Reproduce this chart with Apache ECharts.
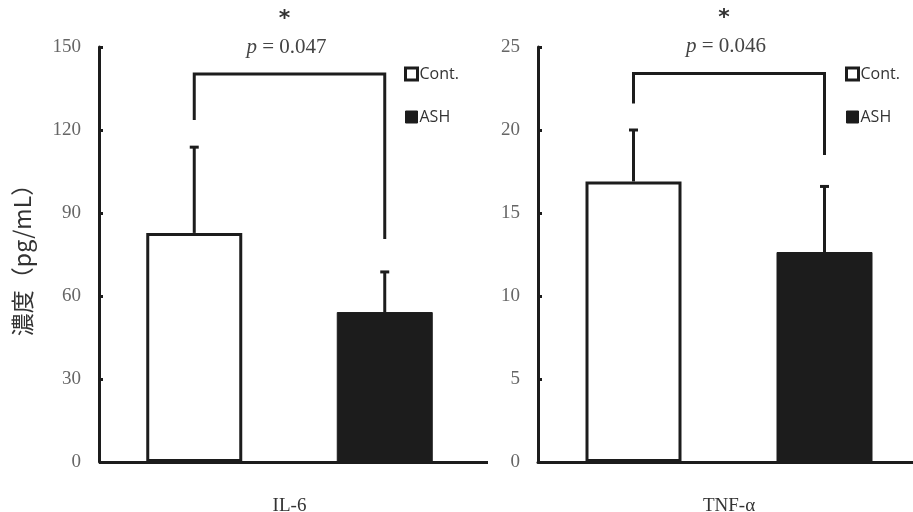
<!DOCTYPE html>
<html><head><meta charset="utf-8">
<script src="https://cdn.jsdelivr.net/npm/echarts@6/dist/echarts.min.js"></script>
<style>html,body{margin:0;padding:0;background:#fff}#c{width:913px;height:512px}</style>
</head><body><div id="c"></div>
<script>
const groups = ['Cont.', 'ASH'];
const panels = ['IL-6', 'TNF-α'];
const il6Mean = [82.8, 54.2];
const il6Upper = [113.8, 68.7];
const tnfMean = [16.9, 12.65];
const tnfUpper = [20.0, 16.6];
// bracket: [left leg bottom, right leg bottom, top]
const il6Bracket = [123.6, 80.6, 140.2];
const tnfBracket = [21.6, 18.5, 23.4];
const pValues = ['0.047', '0.046'];
const yMax = [150, 25];
const yInterval = [30, 5];
const yName = '濃度（pg/mL）';

const INK = '#1c1c1c';
const serif = 'Liberation Serif';

function errItem(params, api) {
  const x = api.value(0);
  const m = api.coord([x, api.value(1)]);
  const u = api.coord([x, api.value(2)]);
  return {type: 'group', children: [
    {type: 'line', shape: {x1: m[0], y1: m[1], x2: u[0], y2: u[1]}, style: {stroke: INK, lineWidth: 3}},
    {type: 'line', shape: {x1: u[0] - 4.5, y1: u[1], x2: u[0] + 4.5, y2: u[1]}, style: {stroke: INK, lineWidth: 3}}
  ]};
}
function bracketItem(pv) {
  return function (params, api) {
    const a = api.coord([0, api.value(0)]);
    const b = api.coord([1, api.value(1)]);
    const t0 = api.coord([0, api.value(2)]);
    const t1 = api.coord([1, api.value(2)]);
    const mid = (t0[0] + t1[0]) / 2;
    return {type: 'group', children: [
      {type: 'polyline', shape: {points: [[a[0], a[1]], [t0[0], t0[1]], [t1[0], t1[1]], [b[0], b[1]]]},
        style: {stroke: INK, lineWidth: 3, fill: null}},
      {type: 'text', x: mid - 3, y: t0[1] - 27, style: {
        text: '{i|p} = ' + pv, rich: {i: {fontStyle: 'italic', fontFamily: serif, fontSize: 21, fill: '#444'}},
        fontFamily: serif, fontSize: 21, fill: '#444', align: 'center', verticalAlign: 'middle'}},
      {type: 'text', x: mid - 5, y: t0[1] - 55, style: {
        text: '*', fontFamily: 'DejaVu Sans', fontSize: 22, fontWeight: 'bold', fill: '#333', align: 'center', verticalAlign: 'middle'}}
    ]};
  };
}

const grids = [
  {left: 99, width: 381, top: 47, bottom: 50, outerBoundsMode: 'none', containLabel: false},
  {left: 538, width: 382, top: 47, bottom: 50, outerBoundsMode: 'none', containLabel: false}
];
const xAxes = panels.map((p, i) => ({
  type: 'category', gridIndex: i, data: groups,
  name: p, nameLocation: 'middle', nameGap: 35,
  nameTextStyle: {fontFamily: serif, fontSize: 19, color: '#333'},
  axisLine: {show: i === 1, lineStyle: {color: INK, width: 3}},
  axisTick: {show: false}, axisLabel: {show: false}
}));
const yAxes = panels.map((p, i) => ({
  type: 'value', gridIndex: i, min: 0, max: yMax[i], interval: yInterval[i],
  name: i === 0 ? yName : '', nameLocation: 'middle', nameGap: 65, nameRotate: 90,
  nameTextStyle: {fontFamily: 'Noto Sans CJK JP', fontSize: 23, color: '#333'},
  axisLine: {show: true, lineStyle: {color: INK, width: 3}},
  axisTick: {show: true, inside: true, length: 4, lineStyle: {color: INK, width: 3}},
  axisLabel: {fontFamily: serif, fontSize: 19, color: '#666', margin: 18},
  splitLine: {show: false}
}));

const means = [il6Mean, tnfMean];
const uppers = [il6Upper, tnfUpper];
const brackets = [il6Bracket, tnfBracket];
const series = [];
panels.forEach((p, i) => {
  series.push({
    name: 'Cont.', type: 'bar', xAxisIndex: i, yAxisIndex: i, stack: 's' + i, barWidth: 96,
    data: [means[i][0], '-'],
    itemStyle: {color: '#fff', borderColor: INK, borderWidth: 3}
  });
  series.push({
    name: 'ASH', type: 'bar', xAxisIndex: i, yAxisIndex: i, stack: 's' + i, barWidth: 98,
    data: ['-', means[i][1]],
    itemStyle: {color: INK, borderColor: INK, borderWidth: 1}
  });
  series.push({
    name: 'err' + i, type: 'custom', xAxisIndex: i, yAxisIndex: i,
    data: groups.map((g, k) => [k, means[i][k], uppers[i][k]]),
    renderItem: errItem, z: 5
  });
  series.push({
    name: 'br' + i, type: 'custom', xAxisIndex: i, yAxisIndex: i,
    data: [brackets[i]], renderItem: bracketItem(pValues[i]), z: 5
  });
});

const legendBase = {
  data: [{name: 'Cont.', itemStyle: {color: '#fff', borderColor: INK, borderWidth: 3}},
         {name: 'ASH', itemStyle: {color: INK, borderColor: INK, borderWidth: 1}}],
  orient: 'vertical', top: 61, itemWidth: 12, itemHeight: 12, itemGap: 27,
  icon: 'rect', selectedMode: false,
  textStyle: {fontFamily: 'Open Sans', fontSize: 16, color: '#333', padding: [0, 0, 0, -3]}
};
const chart = echarts.init(document.getElementById('c'));
chart.setOption({
  animation: false,
  grid: grids,
  xAxis: xAxes,
  yAxis: yAxes,
  legend: [Object.assign({left: 399}, legendBase), Object.assign({left: 840}, legendBase)],
  series: series
});
// left panel baseline: runs a little past the grid, as in the original
const p0 = chart.convertToPixel({gridIndex: 0}, [0, 0]);
const gRect = chart.getModel().getComponent('grid', 0).coordinateSystem.getRect();
chart.setOption({graphic: [{type: 'line', z: 10, shape: {x1: gRect.x, y1: Math.round(p0[1]) + 0.5, x2: gRect.x + gRect.width + 8, y2: Math.round(p0[1]) + 0.5},
  style: {stroke: INK, lineWidth: 3}}]});
</script></body></html>
